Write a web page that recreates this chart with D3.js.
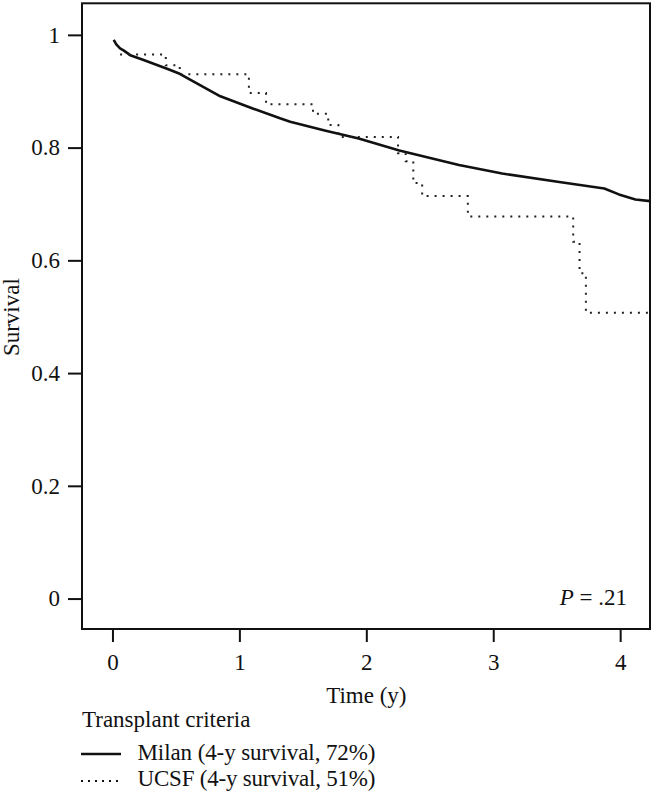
<!DOCTYPE html>
<html>
<head>
<meta charset="utf-8">
<script src="https://cdn.jsdelivr.net/npm/d3@7"></script>
<style>
  html, body { margin: 0; padding: 0; background: #fff; }
  svg { display: block; }
  text { font-family: "Liberation Serif", "DejaVu Serif", serif; fill: #111; }
</style>
</head>
<body>
<svg id="chart" width="655" height="801"></svg>
<script>
// ---- Data ----
const milanTime     = [0.01, 0.03, 0.06, 0.09, 0.14, 0.24, 0.43, 0.53, 0.64, 0.85, 1.11, 1.32, 1.40, 1.68, 1.94, 2.26, 2.73, 3.07, 3.52, 3.875, 3.99, 4.12, 4.24];
const milanSurvival = [0.991, 0.983, 0.976, 0.972, 0.964, 0.956, 0.940, 0.931, 0.917, 0.891, 0.869, 0.852, 0.846, 0.830, 0.816, 0.795, 0.769, 0.754, 0.739, 0.7275, 0.717, 0.708, 0.705];

const ucsfTime     = [0.06, 0.42, 0.53, 1.075, 1.21, 1.58, 1.70, 1.78, 2.25, 2.31, 2.37, 2.44, 2.80, 3.63, 3.68, 3.73, 4.24];
const ucsfSurvival = [0.965, 0.946, 0.930, 0.897, 0.877, 0.860, 0.840, 0.819, 0.790, 0.776, 0.737, 0.714, 0.678, 0.633, 0.577, 0.507, 0.507];

const xTicks = [0, 1, 2, 3, 4];
const yTicks = [0, 0.2, 0.4, 0.6, 0.8, 1];
const yTickLabels = ["0", "0.2", "0.4", "0.6", "0.8", "1"];

const xTitle = "Time (y)";
const yTitle = "Survival";
const legendTitle = "Transplant criteria";
const seriesNames = ["Milan (4-y survival, 72%)", "UCSF (4-y survival, 51%)"];
const pValueLabel = ".21";

// ---- Layout ----
const svg = d3.select("#chart");
const L = 82, R = 650, T = 3.3, B = 629;
const FS = 23;

const x = d3.scaleLinear().domain([-0.24, 4.235]).range([L, R]);
const y = d3.scaleLinear().domain([-0.054, 1.056]).range([B, T]);

svg.append("defs").append("clipPath").attr("id", "clip")
  .append("rect").attr("x", L).attr("y", T).attr("width", R - L).attr("height", B - T);

// Y axis
const yAxis = d3.axisLeft(y).tickValues(yTicks)
  .tickFormat((d, i) => yTickLabels[i]).tickSize(14).tickPadding(8);
const gy = svg.append("g").attr("transform", `translate(${L},0)`).call(yAxis);
gy.select(".domain").remove();
gy.selectAll(".tick line").attr("stroke", "#111").attr("stroke-width", 2);
gy.selectAll(".tick text").attr("font-size", FS).attr("font-family", "Liberation Serif").attr("fill", "#111");

// X axis
const xAxis = d3.axisBottom(x).tickValues(xTicks).tickFormat(d3.format("d")).tickSize(13).tickPadding(12);
const gx = svg.append("g").attr("transform", `translate(0,${B})`).call(xAxis);
gx.select(".domain").remove();
gx.selectAll(".tick line").attr("stroke", "#111").attr("stroke-width", 2);
gx.selectAll(".tick text").attr("font-size", FS).attr("font-family", "Liberation Serif").attr("fill", "#111");

// Box
svg.append("rect").attr("x", L).attr("y", T).attr("width", R - L).attr("height", B - T)
  .attr("fill", "none").attr("stroke", "#111").attr("stroke-width", 2);

// Milan curve
const milan = milanTime.map((t, i) => [t, milanSurvival[i]]);
svg.append("path").datum(milan)
  .attr("clip-path", "url(#clip)")
  .attr("d", d3.line().x(d => x(d[0])).y(d => y(d[1])))
  .attr("fill", "none").attr("stroke", "#111").attr("stroke-width", 2.6)
  .attr("stroke-linejoin", "round");

// UCSF step curve
const ucsf = ucsfTime.map((t, i) => [t, ucsfSurvival[i]]);
svg.append("path").datum(ucsf)
  .attr("clip-path", "url(#clip)")
  .attr("d", d3.line().x(d => x(d[0])).y(d => y(d[1])).curve(d3.curveStepAfter))
  .attr("fill", "none").attr("stroke", "#222").attr("stroke-width", 2)
  .attr("stroke-dasharray", "2 6");

// Axis titles
svg.append("text").attr("x", x(2)).attr("y", 703).attr("text-anchor", "middle")
  .attr("font-size", FS).text(xTitle);
svg.append("text").attr("transform", `translate(19,${(T + B) / 2 + 1}) rotate(-90)`)
  .attr("text-anchor", "middle").attr("font-size", FS).text(yTitle);

// P value
const pt = svg.append("text").attr("x", 627).attr("y", 605).attr("text-anchor", "end").attr("font-size", FS);
pt.append("tspan").attr("font-style", "italic").text("P");
pt.append("tspan").text(" =  " + pValueLabel);

// Legend
svg.append("text").attr("x", 82).attr("y", 727).attr("font-size", FS).text(legendTitle);
const legRows = [{ y: 754, text: 760, dash: null, w: 2.6 }, { y: 781, text: 786, dash: "2 5", w: 2 }];
legRows.forEach((r, i) => {
  const ln = svg.append("line").attr("x1", 81).attr("x2", 121).attr("y1", r.y).attr("y2", r.y)
    .attr("stroke", "#111").attr("stroke-width", r.w);
  if (r.dash) ln.attr("stroke-dasharray", r.dash);
  svg.append("text").attr("x", 137.5).attr("y", r.text).attr("font-size", FS)
    .attr("textLength", 238).attr("lengthAdjust", "spacing").text(seriesNames[i]);
});
</script>
</body>
</html>
